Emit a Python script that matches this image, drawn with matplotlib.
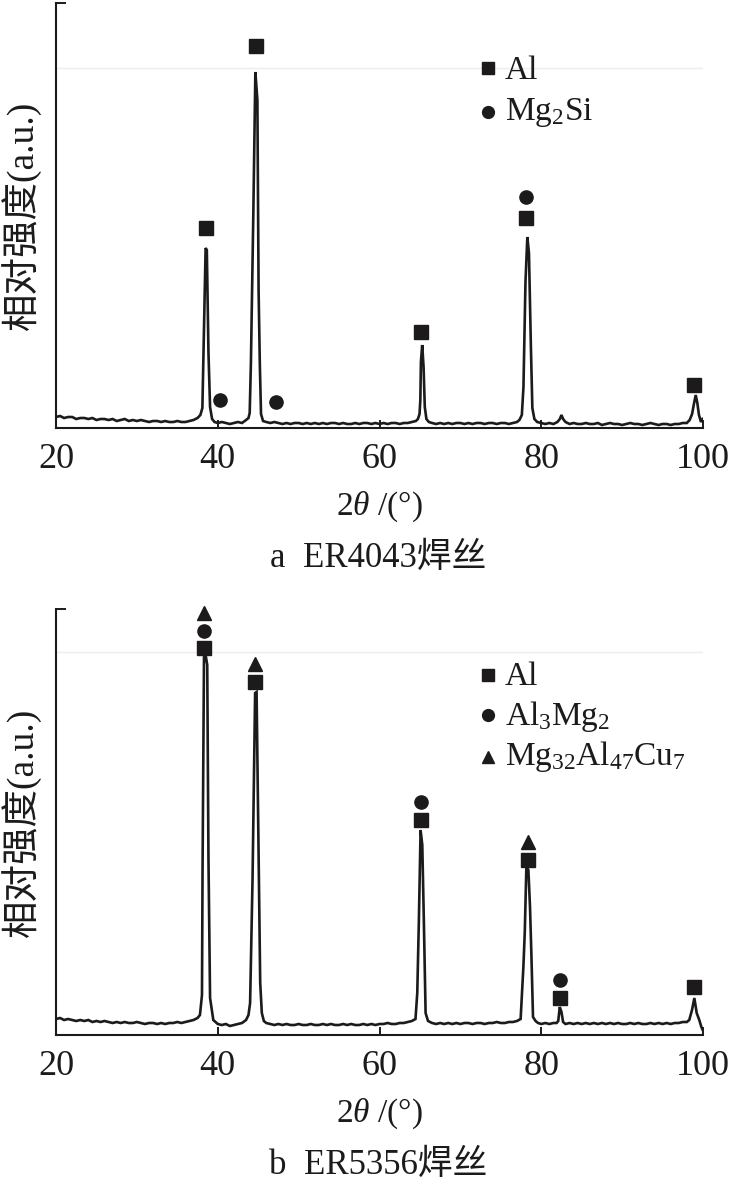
import matplotlib
matplotlib.use('Agg')
import matplotlib.pyplot as plt

plt.rcParams['font.family'] = ['Liberation Serif', 'Noto Sans CJK SC']
plt.rcParams['mathtext.fontset'] = 'custom'
plt.rcParams['mathtext.rm'] = 'Liberation Serif'
plt.rcParams['mathtext.it'] = 'Liberation Serif:italic'
plt.rcParams['mathtext.bf'] = 'Liberation Serif:bold'

# ---------------- data: panel a (ER4043) ----------------
two_theta_a = [
    20.0, 20.5, 21.0, 21.5, 22.0, 22.5, 23.0, 23.5, 24.0, 24.5, 25.0, 25.5, 26.0, 26.5,
    27.0, 27.5, 28.0, 28.5, 29.0, 29.5, 30.0, 30.5, 31.0, 31.5, 32.0, 32.5, 33.0, 33.5,
    34.0, 34.5, 35.0, 35.5, 36.0, 36.5, 37.0, 37.5,
    37.85, 38.1, 38.3, 38.5, 38.65, 38.85, 39.05, 39.3, 39.6,
    40.0, 40.5, 41.0, 41.5, 42.0, 42.5, 43.0, 43.5,
    43.8, 43.95, 44.1, 44.4, 44.65, 44.9, 45.05, 45.2, 45.35, 45.6,
    46.0, 46.5, 47.0, 47.5, 48.0, 48.5, 49.0, 49.5, 50.0, 50.5, 51.0, 51.5, 52.0, 52.5,
    53.0, 53.5, 54.0, 54.5, 55.0, 55.5, 56.0, 56.5, 57.0, 57.5, 58.0, 58.5, 59.0, 59.5,
    60.0, 60.5, 61.0, 61.5, 62.0, 62.5, 63.0, 63.5, 64.0, 64.5,
    64.75, 64.95, 65.05, 65.12, 65.28, 65.45, 65.6, 65.8, 66.1,
    66.5, 67.0, 67.5, 68.0, 68.5, 69.0, 69.5, 70.0, 70.5, 71.0, 71.5, 72.0, 72.5, 73.0,
    73.5, 74.0, 74.5, 75.0, 75.5, 76.0, 76.5, 77.0,
    77.3, 77.6, 77.8, 78.05, 78.28, 78.48, 78.72, 78.9, 79.15, 79.5,
    80.0, 80.5, 81.0, 81.5, 82.0,
    82.3, 82.5, 82.7, 83.0,
    83.5, 84.0, 84.5, 85.0, 85.5, 86.0, 86.5, 87.0, 87.5, 88.0, 88.5, 89.0, 89.5, 90.0,
    90.5, 91.0, 91.5, 92.0, 92.5, 93.0, 93.5, 94.0, 94.5, 95.0, 95.5, 96.0, 96.5, 97.0,
    97.5, 98.0,
    98.35, 98.65, 98.9, 99.1, 99.3, 99.5, 99.75, 99.95,
]
intensity_a = [
    11, 12, 10, 11, 11, 9, 10, 10, 9, 10, 8, 9, 9, 8,
    9, 7, 8, 9, 7, 8, 7, 8, 7, 6, 7, 7, 6, 7,
    6, 6, 7, 6, 6, 7, 8, 10,
    13, 20, 101, 180, 178, 76, 21, 9, 6,
    5, 6, 5, 4, 5, 6, 5, 8,
    10, 15, 65, 215, 356, 328, 138, 65, 14, 7,
    6, 5, 6, 5, 4, 5, 4, 5, 5, 4, 5, 4, 5, 4,
    5, 4, 5, 5, 4, 5, 4, 4, 5, 4, 5, 5, 4, 5,
    4, 5, 4, 5, 5, 4, 5, 5, 6, 7,
    9, 14, 28, 66, 83, 61, 21, 9, 6,
    5, 4, 5, 4, 5, 4, 5, 5, 4, 5, 4, 5, 5, 4,
    5, 5, 4, 5, 5, 4, 5, 6,
    8, 13, 41, 146, 191, 175, 81, 20, 9, 6,
    5, 4, 5, 4, 6,
    9, 13, 9, 6,
    4, 5, 4, 4, 5, 4, 4, 5, 3, 4, 5, 4, 4, 3,
    4, 5, 4, 4, 3, 4, 5, 4, 3, 4, 4, 3, 4, 4,
    5, 5,
    8, 14, 25, 33, 25, 13, 6, 9,
]
al_pos_a = [38.55, 44.77, 65.1, 78.16, 98.85]
al_int_a = [200, 382, 96, 210, 43]
mg2si_pos_a = [40.3, 47.25, 78.16]
mg2si_int_a = [28, 26, 231]

# ---------------- data: panel b (ER5356) ----------------
two_theta_b = [
    20.0, 20.5, 21.0, 21.5, 22.0, 22.5, 23.0, 23.5, 24.0, 24.5, 25.0, 25.5, 26.0, 26.5,
    27.0, 27.5, 28.0, 28.5, 29.0, 29.5, 30.0, 30.5, 31.0, 31.5, 32.0, 32.5, 33.0, 33.5,
    34.0, 34.5, 35.0, 35.5, 36.0, 36.5, 37.0, 37.5,
    37.8, 38.05, 38.12, 38.3, 38.5, 38.7, 38.85, 39.05, 39.45,
    40.0, 40.5, 41.0, 41.5, 42.0, 42.5, 43.0, 43.5,
    43.8, 44.0, 44.3, 44.62, 44.8, 45.05, 45.25, 45.45, 45.7,
    46.0, 46.5, 47.0, 47.5, 48.0, 48.5, 49.0, 49.5, 50.0, 50.5, 51.0, 51.5, 52.0, 52.5,
    53.0, 53.5, 54.0, 54.5, 55.0, 55.5, 56.0, 56.5, 57.0, 57.5, 58.0, 58.5, 59.0, 59.5,
    60.0, 60.5, 61.0, 61.5, 62.0, 62.5, 63.0, 63.5, 64.0,
    64.45, 64.67, 64.87, 65.08, 65.29, 65.49, 65.7, 66.0,
    66.5, 67.0, 67.5, 68.0, 68.5, 69.0, 69.5, 70.0, 70.5, 71.0, 71.5, 72.0, 72.5, 73.0,
    73.5, 74.0, 74.5, 75.0, 75.5, 76.0, 76.5, 77.0,
    77.45, 77.79, 77.96, 78.16, 78.41, 78.61, 78.79, 78.98, 79.3,
    79.6, 80.0, 80.5, 81.0, 81.5,
    81.9, 82.1, 82.29, 82.5, 82.7, 83.0,
    83.5, 84.0, 84.5, 85.0, 85.5, 86.0, 86.5, 87.0, 87.5, 88.0, 88.5, 89.0, 89.5, 90.0,
    90.5, 91.0, 91.5, 92.0, 92.5, 93.0, 93.5, 94.0, 94.5, 95.0, 95.5, 96.0, 96.5, 97.0,
    97.5, 98.0,
    98.3, 98.64, 98.93, 99.22, 99.54, 99.8, 99.96,
]
intensity_b = [
    16, 17, 15, 16, 15, 14, 15, 14, 15, 13, 14, 13, 14, 13,
    12, 13, 12, 13, 12, 12, 13, 12, 11, 12, 12, 11, 12, 11,
    12, 12, 13, 12, 13, 14, 15, 17,
    20, 40, 163, 378, 380, 370, 178, 37, 15,
    11, 10, 11, 9, 10, 11, 12, 15,
    20, 32, 155, 342, 343, 180, 52, 22, 14,
    12, 11, 10, 11, 10, 11, 10, 10, 11, 10, 10, 11, 10, 10,
    11, 10, 11, 10, 10, 11, 10, 11, 10, 10, 11, 10, 11, 10,
    11, 11, 12, 11, 11, 12, 12, 13, 14,
    16, 42, 115, 205, 190, 112, 22, 14,
    12, 11, 12, 11, 12, 11, 12, 11, 12, 12, 11, 12, 12, 11,
    12, 12, 13, 12, 12, 13, 13, 14,
    16, 68, 102, 168, 165, 128, 78, 18, 14,
    12, 11, 12, 11, 12,
    12, 14, 28, 23, 13, 11,
    12, 11, 12, 11, 12, 11, 12, 11, 12, 11, 12, 11, 12, 11,
    11, 12, 11, 12, 11, 11, 12, 11, 12, 11, 12, 11, 12, 12,
    13, 13,
    15, 25, 37, 22, 15, 8, 5,
]
al_pos_b = [38.3, 44.62, 65.08, 78.3, 82.37, 98.88]
al_int_b = [387, 353, 215, 175, 37, 48]
al3mg2_pos_b = [38.3, 65.08, 82.37]
al3mg2_int_b = [404, 233, 55]
mgalcu_pos_b = [38.3, 44.62, 78.3]
mgalcu_int_b = [422, 371, 193]

x_ticks = [20, 40, 60, 80, 100]
y_label = '相对强度(a.u.)'
x_label = r'2$\theta$ /(°)'
captions = ['a  ER4043焊丝', 'b  ER5356焊丝']

W, H = 730, 1184
INK = '#1c1a1b'
fig = plt.figure(figsize=(W / 100, H / 100), dpi=100)


def add_axes_px(left, top, right, bottom):
    return fig.add_axes([left / W, 1 - bottom / H, (right - left) / W, (bottom - top) / H])


panels = [
    dict(top=3, bottom=428, ymax=425, frame=360, x=two_theta_a, y=intensity_a,
         marks=[('s', al_pos_a, al_int_a, 10), ('o', mg2si_pos_a, mg2si_int_a, 9.5)],
         legend=[('s', 'Al'), ('o', 'Mg$_2$Si')],
         leg_marker_y=[68, 112], leg_text_y=[79, 120], caption=captions[0]),
    dict(top=609, bottom=1035, ymax=426, frame=383, x=two_theta_b, y=intensity_b,
         marks=[('s', al_pos_b, al_int_b, 10), ('o', al3mg2_pos_b, al3mg2_int_b, 9.5),
                ('^', mgalcu_pos_b, mgalcu_int_b, 10)],
         legend=[('s', 'Al'), ('o', 'Al$_3$Mg$_2$'), ('^', 'Mg$_{32}$Al$_{47}$Cu$_7$')],
         leg_marker_y=[675, 715, 757], leg_text_y=[685, 725, 765], caption=captions[1]),
]

for p in panels:
    ax = add_axes_px(56, p['top'], 703, p['bottom'])
    ax.set_xlim(20, 100)
    ax.set_ylim(0, p['ymax'])
    ax.axhline(p['frame'], color='#ededed', lw=1.0, zorder=0)
    ax.plot(p['x'], p['y'], color=INK, lw=1.9, solid_joinstyle='miter')
    for mk, xs, ys, ms in p['marks']:
        ax.plot(xs, ys, linestyle='none', marker=mk, ms=ms, color=INK, mec=INK,
                clip_on=False, zorder=5)
    for spn in ['top', 'right']:
        ax.spines[spn].set_visible(False)
    for spn in ['left', 'bottom']:
        ax.spines[spn].set_linewidth(1.5)
        ax.spines[spn].set_color(INK)
    ax.set_xticks(x_ticks)
    ax.set_xticklabels([str(t) for t in x_ticks])
    ax.tick_params(axis='x', direction='in', length=6, width=1.4, color=INK,
                   labelsize=26, pad=11, labelcolor=INK)
    ax.set_yticks([p['ymax']])
    ax.set_yticklabels([''])
    ax.tick_params(axis='y', direction='in', length=7, width=1.4, color=INK)

    h = p['bottom'] - p['top']
    for (mk, label), my, ty in zip(p['legend'], p['leg_marker_y'], p['leg_text_y']):
        ax.plot([(488 - 56) / 647], [(p['bottom'] - my) / h], marker=mk, ms=8.5,
                color=INK, transform=ax.transAxes, clip_on=False, linestyle='none')
        ax.text((505 - 56) / 647, (p['bottom'] - ty) / h, label, transform=ax.transAxes,
                fontsize=24, va='baseline', ha='left', color=INK)

    mid = (p['top'] + p['bottom']) / 2
    fig.text(22 / W, 1 - mid / H, y_label, rotation=90, ha='center', va='center',
             fontsize=27, color=INK)
    off = p['bottom'] - 428
    fig.text(379 / W, 1 - (515 + off) / H, x_label, ha='center', va='baseline',
             fontsize=24, color=INK)
    fig.text(378 / W, 1 - (567 + off) / H, p['caption'], ha='center', va='baseline',
             fontsize=25, color=INK)

fig.savefig('out.png', dpi=100, facecolor='white')
